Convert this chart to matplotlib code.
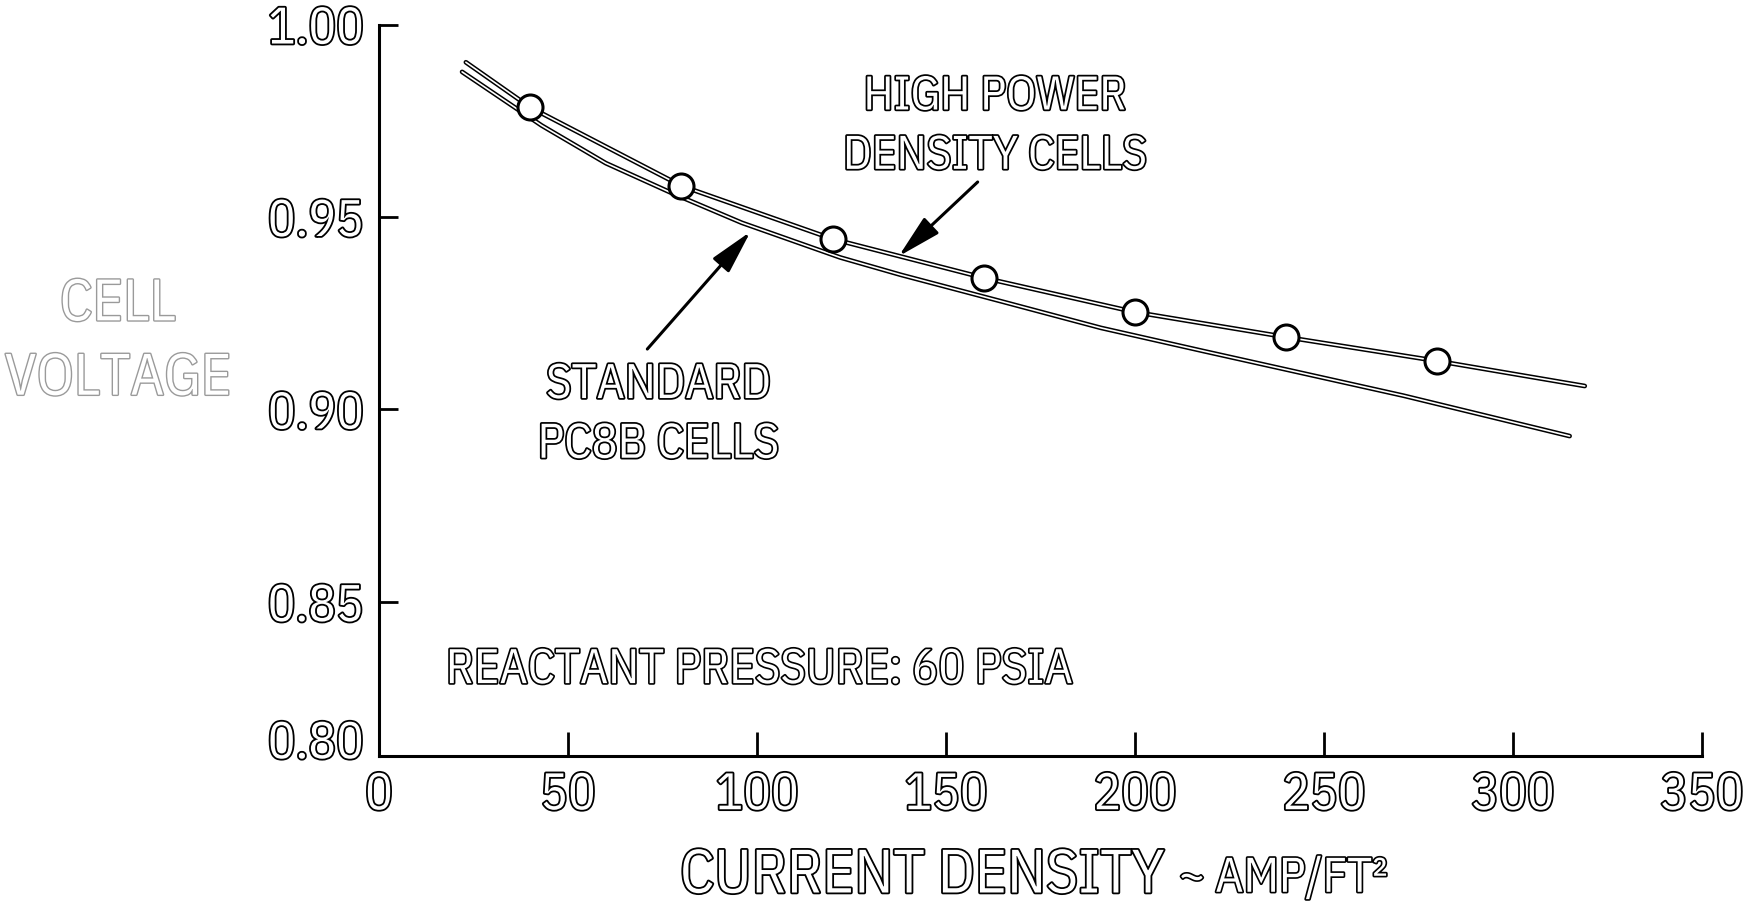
import matplotlib
matplotlib.use("Agg")
import matplotlib.pyplot as plt
import matplotlib.patheffects as pe

# ---- data ----
hp_x = [23, 40, 80, 120, 160, 200, 240, 280, 319]
hp_v = [0.9902, 0.9785, 0.9581, 0.9443, 0.9342, 0.9253, 0.9188, 0.9126, 0.9061]
hp_mark_x = [40, 80, 120, 160, 200, 240, 280]
hp_mark_v = [0.9785, 0.9581, 0.9443, 0.9342, 0.9253, 0.9188, 0.9126]

std_x = [22, 43, 60, 78, 96, 122, 138, 165, 191, 218, 271, 315]
std_v = [0.9877, 0.9738, 0.9640, 0.9560, 0.9485, 0.9395, 0.9350, 0.9280, 0.9212, 0.9152, 0.9036, 0.8931]

x_ticks = [0, 50, 100, 150, 200, 250, 300, 350]
x_tick_labels = ["0", "50", "100", "150", "200", "250", "300", "350"]
y_ticks = [0.85, 0.90, 0.95, 1.00]
y_tick_labels = ["0.85", "0.90", "0.95", "1.00"]
y_bottom_label = "0.80"

FONT = ["IBM Plex Sans Condensed", "DejaVu Sans"]
plt.rcParams["font.family"] = FONT

def hollow(lw=2.4, fg="black"):
    return [pe.withStroke(linewidth=lw, foreground=fg)]

fig = plt.figure(figsize=(17.56, 9.12), dpi=100)
ax = fig.add_axes([0.2158, 0.1700, 0.9692 - 0.2158, 0.9720 - 0.1700])

# curves drawn as double (hollow) strokes
for xs, vs in ((std_x, std_v), (hp_x, hp_v)):
    ax.plot(xs, vs, color="black", lw=3.4, solid_capstyle="round", zorder=3)
    ax.plot(xs, vs, color="white", lw=1.2, solid_capstyle="round", zorder=4)
ax.plot(hp_mark_x, hp_mark_v, ls="none", marker="o", ms=18, mfc="white",
        mec="black", mew=2.2, zorder=5)

ax.set_xlim(0, 350)
ax.set_ylim(0.81, 1.00)
for s in ("top", "right"):
    ax.spines[s].set_visible(False)
for s in ("left", "bottom"):
    ax.spines[s].set_linewidth(2.2)

ax.set_xticks(x_ticks)
ax.set_xticklabels(x_tick_labels)
ax.set_yticks(y_ticks)
ax.set_yticklabels(y_tick_labels)
ax.tick_params(axis="x", direction="in", length=17, width=2.0, pad=11)
ax.tick_params(axis="y", direction="in", length=14, width=2.0, pad=11)
for lab in ax.get_xticklabels() + ax.get_yticklabels():
    lab.set_fontsize(37)
    lab.set_color("white")
    lab.set_path_effects(hollow(2.6))

ax.annotate(y_bottom_label, xy=(0, 0.81), xycoords="data",
            xytext=(-11, 8.5), textcoords="offset points",
            ha="right", va="center", fontsize=37, color="white",
            path_effects=hollow(2.6), annotation_clip=False)

# labels and pointer arrows
ax.text(163, 0.9736, "HIGH POWER\nDENSITY CELLS", ha="center", va="center",
        fontsize=34, color="white", linespacing=1.44, path_effects=hollow(2.5))
ax.annotate("", xy=(137.5, 0.9398), xytext=(158.4, 0.9591),
            arrowprops=dict(arrowstyle="-|>,head_length=0.9,head_width=0.22",
                            color="black", lw=2.2, mutation_scale=30,
                            shrinkA=0, shrinkB=0))
ax.text(73.9, 0.8986, "STANDARD\nPC8B CELLS", ha="center", va="center",
        fontsize=35, color="white", linespacing=1.38, path_effects=hollow(2.5))
ax.annotate("", xy=(98.3, 0.9462), xytext=(71, 0.9157),
            arrowprops=dict(arrowstyle="-|>,head_length=0.9,head_width=0.22",
                            color="black", lw=2.2, mutation_scale=30,
                            shrinkA=0, shrinkB=0))

ax.text(17.7, 0.8323, "REACTANT PRESSURE: 60 PSIA", ha="left", va="center",
        fontsize=35, color="white", path_effects=hollow(2.4))

fig.text(118 / 1756, 1 - 343 / 912, "CELL\nVOLTAGE", ha="center", va="center",
         fontsize=42, color="white", linespacing=1.45,
         path_effects=hollow(2.0, "#9a9a9a"))

t1 = fig.text(680 / 1756, 1 - 877 / 912, "CURRENT DENSITY", ha="left", va="center",
              fontsize=44, color="white", path_effects=hollow(2.6))
ax.annotate("~ AMP/FT²", xy=(1, 0.5), xycoords=t1, xytext=(10, -2),
            textcoords="offset points", ha="left", va="center",
            fontsize=35, color="white", path_effects=hollow(2.4),
            annotation_clip=False)

fig.savefig("out.png", dpi=100, facecolor="white")
